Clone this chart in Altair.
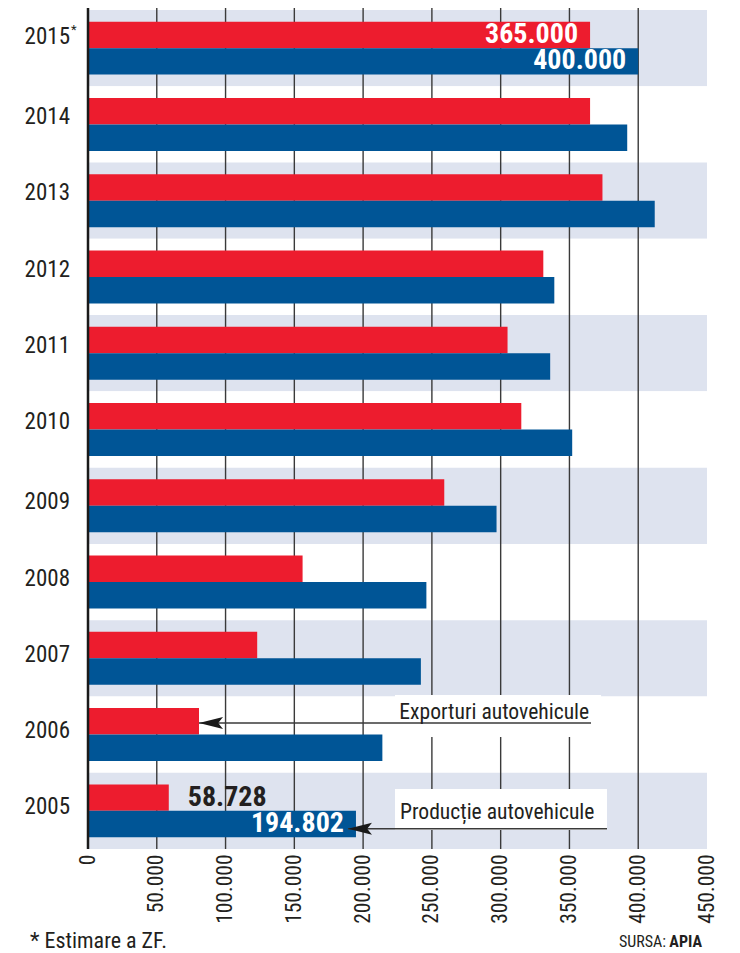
import altair as alt
import pandas as pd

# ---------------- data ----------------
years = ["2015", "2014", "2013", "2012", "2011", "2010", "2009", "2008", "2007", "2006", "2005"]
exports = [365000, 365000, 374000, 331000, 305000, 315000, 259000, 156000, 123000, 80700, 58728]
production = [400000, 392000, 412000, 339000, 336000, 352000, 297000, 246000, 242000, 214000, 194802]
series = ["Exporturi autovehicule", "Producție autovehicule"]
x_ticks = [0, 50000, 100000, 150000, 200000, 250000, 300000, 350000, 400000, 450000]
estimated_year = "2015"
footnote = "* Estimare a ZF."
source_label = "SURSA:"
source_name = "APIA"

# ---------------- style ----------------
W, H = 619, 839
FONT = "Roboto Condensed, Roboto, sans-serif"
RED = "#ed1c2e"
BLUE = "#005596"
BAND = "#dee3ef"
INK = "#231f20"
ARROW = "M-1,0L1,-0.5L0.6,0L1,0.5Z"

bars_df = pd.DataFrame({
    "year": years * 2,
    "series": [series[0]] * len(years) + [series[1]] * len(years),
    "value": exports + production,
})
year_df = pd.DataFrame({"year": years})

y_scale = alt.Scale(domain=years, paddingInner=0, paddingOuter=0)
Y = alt.Y("year:N", sort=years, scale=y_scale, axis=None)

X = alt.X("value:Q", scale=alt.Scale(domain=[0, 450000], nice=False, zero=True), title=None,
          axis=alt.Axis(values=x_ticks, labelExpr="replace(format(datum.value, ','), ',', '.')",
                        labelAngle=270, labelAlign="right", labelBaseline="middle",
                        labelFont=FONT, labelFontSize=21.5, labelColor=INK,
                        domain=False, ticks=False, tickSize=0, grid=False,
                        labelPadding=5, labelFlush=False, labelOverlap=False))

YOFF = alt.YOffset("series:N", sort=series,
                   scale=alt.Scale(domain=series, paddingInner=0, paddingOuter=0.44))

# background bands
bg = alt.Chart(year_df).transform_calculate(
    odd="toNumber(datum.year) % 2"
).mark_rect(strokeWidth=0).encode(
    y=Y, x=alt.value(0), x2=alt.value(W),
    fill=alt.condition("datum.odd == 1", alt.value(BAND), alt.value("white")),
)

# grid lines (above bands, below bars)
grid = alt.Chart(pd.DataFrame({"value": x_ticks[1:-1]})).mark_rule(
    color="#3a3a3a", strokeWidth=1.4
).encode(x=X, y=alt.value(-2), y2=alt.value(H))


def year_labels(test, off):
    return alt.Chart(year_df).transform_filter(test).mark_text(
        align="right", baseline="middle", font=FONT, fontSize=23, color=INK, yOffset=off
    ).encode(x=alt.value(-18), y=Y, text="year:N")


ylab1 = year_labels("datum.year == '2015'", -11)
ylab2 = year_labels("toNumber(datum.year) >= 2010 && toNumber(datum.year) <= 2014", -7.3)
ylab3 = year_labels("toNumber(datum.year) <= 2009", -3.4)


def annotation(year, text, tip, line_end, box0, box1, text_x, line_off, box_off, box_h, text_off):
    d = pd.DataFrame({"year": [year], "label": [text]})
    base = alt.Chart(d)
    box = base.mark_bar(color="white", height=box_h, yOffset=box_off).encode(
        x=alt.datum(box0), x2=alt.datum(box1), y=Y)
    line = base.mark_rule(color="#3a3a3a", strokeWidth=1.5, yOffset=line_off).encode(
        x=alt.datum(tip), x2=alt.datum(line_end), y=Y)
    head = base.mark_point(shape=ARROW, size=576, filled=True, color="#1a1a1a", opacity=1,
                           xOffset=12, yOffset=line_off).encode(x=alt.datum(tip), y=Y)
    txt = base.mark_text(align="left", baseline="alphabetic", font=FONT, fontSize=21.6,
                         color=INK, yOffset=text_off).encode(
        x=alt.datum(text_x), y=Y, text="label:N")
    return box, line, head, txt


ann1 = annotation("2006", series[0], exports[9], 365700, 223200, 373000, 226300, -11.6, -18.6, 42, -15.6)
ann2 = annotation("2005", series[1], 189000, 377300, 223200, 377300, 226800, 18, -1.4, 41, 8.4)

bars = alt.Chart(bars_df).mark_bar().encode(
    x=X, y=Y, yOffset=YOFF,
    color=alt.Color("series:N", scale=alt.Scale(domain=series, range=[RED, BLUE]), legend=None),
)

left_axis = alt.Chart(pd.DataFrame({"v": [0]})).mark_rule(color="#1a1a1a", strokeWidth=2.5).encode(
    x=alt.datum(0), y=alt.value(-2), y2=alt.value(H))

lab_base = alt.Chart(bars_df).transform_calculate(
    label="replace(format(datum.value, ','), ',', '.')"
)
inside = lab_base.transform_filter(
    "datum.year == '2015' || (datum.year == '2005' && datum.series == '%s')" % series[1]
).mark_text(align="right", baseline="middle", dx=-12, font=FONT, fontSize=28,
            fontWeight="bold", color="white").encode(x=X, y=Y, yOffset=YOFF, text="label:N")
outside = lab_base.transform_filter(
    "datum.year == '2005' && datum.series == '%s'" % series[0]
).mark_text(align="left", baseline="middle", dx=19, font=FONT, fontSize=28,
            fontWeight="bold", color=INK).encode(x=X, y=Y, yOffset=YOFF, text="label:N")

star = alt.Chart(pd.DataFrame({"year": [estimated_year], "t": ["*"]})).mark_text(
    align="left", baseline="middle", font=FONT, fontSize=13, color=INK, yOffset=-18
).encode(x=alt.value(-17), y=Y, text="t:N")

foot = alt.Chart(pd.DataFrame({"t": [footnote]})).mark_text(
    align="left", baseline="alphabetic", font=FONT, fontSize=22, color=INK
).encode(x=alt.value(-58), y=alt.value(H + 99), text="t:N")
src1 = alt.Chart(pd.DataFrame({"t": [source_label]})).mark_text(
    align="right", baseline="alphabetic", font=FONT, fontSize=16, color=INK
).encode(x=alt.value(578), y=alt.value(H + 98), text="t:N")
src2 = alt.Chart(pd.DataFrame({"t": [source_name]})).mark_text(
    align="right", baseline="alphabetic", font=FONT, fontSize=16, fontWeight="bold", color=INK
).encode(x=alt.value(614), y=alt.value(H + 98), text="t:N")

chart = alt.layer(
    bg, grid, ann1[0], ann2[0], bars, left_axis,
    ann1[1], ann1[2], ann1[3], ann2[1], ann2[2], ann2[3],
    inside, outside, ylab1, ylab2, ylab3, star, foot, src1, src2,
).properties(
    width=W, height=H,
    autosize=alt.AutoSizeParams(type="none"),
    padding={"left": 80, "top": 2, "right": 25, "bottom": 112},
).configure_view(stroke=None).resolve_scale(y="shared")

chart.save("out.html", embed_options={"renderer": "svg", "actions": False})
